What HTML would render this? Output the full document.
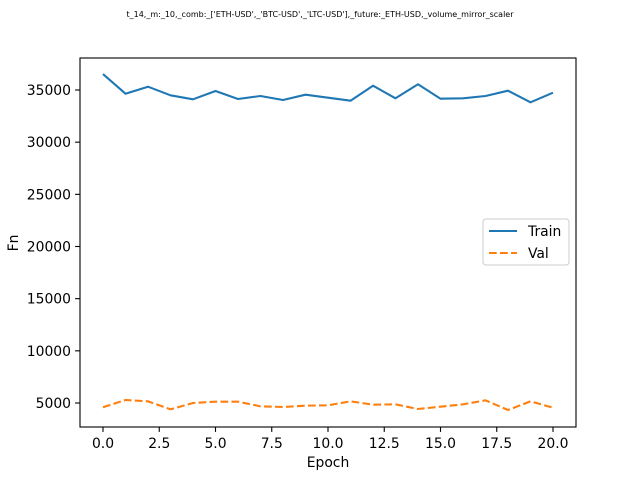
<!DOCTYPE html>
<html><head><meta charset="utf-8"><style>
body{margin:0;background:#fff}
svg text{font-family:"DejaVu Sans","Liberation Sans",sans-serif}
</style></head><body>
<svg id="c" width="640" height="480" viewBox="0 0 640 480">
<text x="320" y="17" font-size="8" text-anchor="middle">t_14,_m:_10,_comb:_['ETH-USD',_'BTC-USD',_'LTC-USD'],_future:_ETH-USD,_volume_mirror_scaler</text>
<g id="ticks"></g>
<polyline id="train" fill="none" stroke="#1f77b4" stroke-width="2.08" stroke-linejoin="round"/>
<polyline id="val" fill="none" stroke="#ff7f0e" stroke-width="2.08" stroke-dasharray="7.7,3.3"/>
<rect x="80" y="58" width="496" height="369" fill="none" stroke="#000" stroke-width="1.1"/>
<text x="328" y="467" font-size="13.9" text-anchor="middle">Epoch</text>
<text x="18" y="243" font-size="13.9" text-anchor="middle" transform="rotate(-90 18 243)">Fn</text>
<g>
<rect x="483" y="219" width="86" height="46" rx="3" fill="#fff" stroke="#ccc" stroke-width="1"/>
<line x1="489" y1="231" x2="517" y2="231" stroke="#1f77b4" stroke-width="2.08"/>
<text x="528" y="236" font-size="13.9">Train</text>
<line x1="489" y1="253" x2="517" y2="253" stroke="#ff7f0e" stroke-width="2.08" stroke-dasharray="7.7,3.3"/>
<text x="528" y="258" font-size="13.9">Val</text>
</g>
</svg>
<script>
const epochs=[0,1,2,3,4,5,6,7,8,9,10,11,12,13,14,15,16,17,18,19,20];
const trainValues=[36530,34645,35316,34492,34109,34904,34137,34425,34041,34550,34262,33974,35412,34204,35546,34166,34204,34425,34933,33821,34741];
const valValues=[4588,5288,5160,4395,5000,5128,5128,4680,4617,4745,4776,5160,4837,4872,4425,4650,4872,5256,4329,5160,4550];
const xTicks=[0,2.5,5,7.5,10,12.5,15,17.5,20];
const xTickLabels=["0.0","2.5","5.0","7.5","10.0","12.5","15.0","17.5","20.0"];
const yTicks=[5000,10000,15000,20000,25000,30000,35000];
const yTickLabels=["5000","10000","15000","20000","25000","30000","35000"];
const L=80,R=576,T=58,B=427,xmin=-1.022,xmax=21.022,ymin=2700,ymax=38067;
const sx=v=>L+(v-xmin)/(xmax-xmin)*(R-L);
const sy=v=>B-(v-ymin)/(ymax-ymin)*(B-T);
const NS="http://www.w3.org/2000/svg";
const g=document.getElementById('ticks');
function mk(t,a){const e=document.createElementNS(NS,t);for(const k in a)e.setAttribute(k,a[k]);return e;}
xTicks.forEach((v,i)=>{
 const l=mk('line',{x1:sx(v),x2:sx(v),y1:B,y2:B+4.9,stroke:'#000','stroke-width':1.1});
 
 
 g.appendChild(l);
 const t=mk('text',{x:sx(v),y:B+21,'font-size':13.9,'text-anchor':'middle'});
 
 
 t.textContent=xTickLabels[i];g.appendChild(t);
});
yTicks.forEach((v,i)=>{
 const l=mk('line',{x1:L-4.9,x2:L,y1:sy(v),y2:sy(v),stroke:'#000','stroke-width':1.1});
 
 
 g.appendChild(l);
 const t=mk('text',{x:L-9,y:sy(v)+5,'font-size':13.9,'text-anchor':'end'});
 
 
 t.textContent=yTickLabels[i];g.appendChild(t);
});
document.getElementById('train').setAttribute('points',epochs.map((e,i)=>sx(e)+','+sy(trainValues[i])).join(' '));
document.getElementById('val').setAttribute('points',epochs.map((e,i)=>sx(e)+','+sy(valValues[i])).join(' '));
</script>
</body></html>
